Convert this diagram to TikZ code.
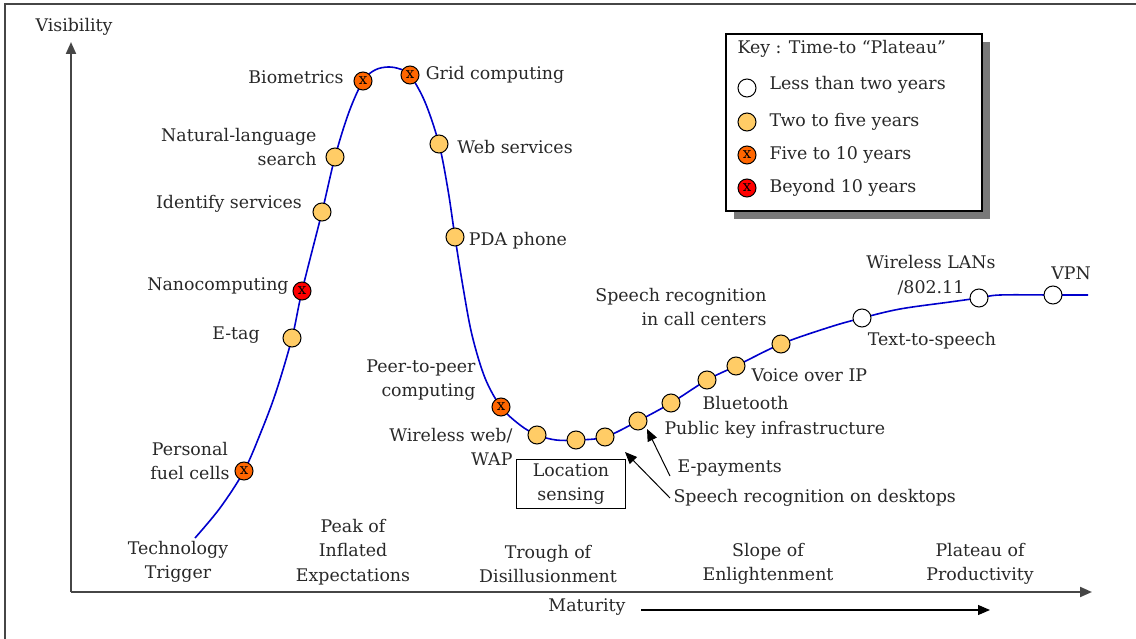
\documentclass[tikz,border=0pt]{standalone}
\usepackage{fontspec}
\setmainfont{DejaVu Serif}
\usetikzlibrary{arrows.meta}

\definecolor{curveblue}{RGB}{0,0,204}
\definecolor{yelfill}{RGB}{255,204,102}
\definecolor{orgfill}{RGB}{255,102,0}
\definecolor{redfill}{RGB}{255,0,0}
\definecolor{txtgray}{RGB}{40,40,40}
\definecolor{axisgray}{RGB}{70,70,70}

\begin{document}
\begin{tikzpicture}[x=1pt,y=-1pt,
    font=\fontsize{17.4}{24.5}\selectfont, text=txtgray,
    dot/.style={circle,draw=black,line width=1pt,minimum size=18pt,inner sep=0pt},
    lesstwo/.style={dot,fill=white},
    twofive/.style={dot,fill=yelfill},
    fiveten/.style={dot,fill=orgfill,label={[font=\fontsize{15}{15}\selectfont,text=black,inner sep=0pt]center:x}},
    beyond/.style={dot,fill=redfill,label={[font=\fontsize{15}{15}\selectfont,text=black,inner sep=0pt]center:x}},
    tip/.style={-{Triangle[length=12pt,width=10pt]}},
    ]
        \useasboundingbox (0,0) rectangle (1136,639);
        % 外框
        \draw[axisgray,line width=1.5pt] (5,639) -- (5,4) -- (1136,4);

        % 坐标轴
        \coordinate (O) at (71,592);
        \coordinate (Ytop) at (71,42);
        \coordinate (Xend) at (1092,592);
        \draw[axisgray,line width=2pt,tip] (O) -- (Ytop);
        \draw[axisgray,line width=2pt,tip] (O) -- (Xend);
        \node (vis) at (74,27) {Visibility};
        \node (mat) at (587,607) {Maturity};
        \coordinate (M1) at (641,610);
        \coordinate (M2) at (990,610);
        \draw[line width=1.2pt,tip] (M1) -- (M2);

        % 各阶段
        \node[align=center] (trigger) at (178,562) {Technology\\Trigger};
        \node[align=center] (peak) at (353,552) {Peak of\\Inflated\\Expectations};
        \node[align=center] (trough) at (548,564) {Trough of\\Disillusionment};
        \node[align=center] (slope) at (768,564) {Slope of\\Enlightenment};
        \node[align=center] (plateau) at (980,564) {Plateau of\\Productivity};

        % 曲线
        \draw[curveblue,line width=1.6pt] plot[smooth,tension=0.55] coordinates {
            (195,538) (220,508) (244,471) (261,432) (276,392) (292,338)
            (302,291) (322,212) (335,157) (349,112) (363,81) (375,70)
            (388,67) (400,69) (410,75) (425,102) (439,144) (448,190)
            (455,237) (463,287) (472,335) (485,378) (501,407) (520,425)
            (537,435) (556,440) (576,440) (605,437) (638,421) (671,403)
            (707,380) (736,366) (781,344) (830,327) (862,318) (900,309)
            (950,302) (979,298) (1000,295) (1053,295) (1088,295)};

        % 技术点
        \foreach \n/\p/\s in {fuel/{244,471}/fiveten, etag/{292,338}/twofive,
            nano/{302,291}/beyond, ident/{322,212}/twofive, natural/{335,157}/twofive,
            bio/{363,81}/fiveten, grid/{410,75}/fiveten, web/{439,144}/twofive,
            pda/{455,237}/twofive, peer/{501,407}/fiveten, wap/{537,435}/twofive,
            loc/{576,440}/twofive, sdesk/{605,437}/twofive, pki/{638,421}/twofive,
            blue/{671,403}/twofive, blue2/{707,380}/twofive, voip/{736,366}/twofive,
            scall/{781,344}/twofive, tts/{862,318}/lesstwo, wlan/{979,298}/lesstwo,
            vpn/{1053,295}/lesstwo}
            \node[\s] (\n) at (\p) {};

        % 标签
        \node[align=center] (fuell) at (190,461) {Personal\\fuel cells};
        \node (etagl) at (236,335) {E-tag};
        \node (nanol) at (218,286) {Nanocomputing};
        \node (identl) at (229,204) {Identify services};
        \node[align=right,anchor=east] (naturall) at (320,147) {Natural-language\\search};
        \node (biol) at (296,77) {Biometrics};
        \node (gridl) at (495,75) {Grid computing};
        \node (webl) at (515,147) {Web services};
        \node (pdal) at (518,241) {PDA phone};
        \node[align=right,anchor=east] (peerl) at (479,380) {Peer-to-peer\\computing};
        \node[align=right,anchor=east] (wapl) at (516,447) {Wireless web/\\WAP};
        \node[draw=black,line width=1.2pt,align=center,minimum width=109pt,minimum height=49pt,inner sep=0pt] (locl) at (571,484) {Location\\sensing};
        \node[anchor=west] (pkil) at (661,430) {Public key infrastructure};
        \node[anchor=west] (epayl) at (674,468) {E-payments};
        \node[anchor=west] (sdeskl) at (670,498) {Speech recognition on desktops};
        \node[anchor=west] (bluel) at (699,403) {Bluetooth};
        \node[anchor=west] (voipl) at (748,375) {Voice over IP};
        \node[align=right,anchor=east] (scalll) at (770,307) {Speech recognition\\in call centers};
        \node (ttsl) at (932,341) {Text-to-speech};
        \node[align=center] (wlanl) at (931,275) {Wireless LANs\\/802.11};
        \node (vpnl) at (1071,273) {VPN};

        % 箭头
        \coordinate (epayt) at (647,429);
        \coordinate (sdeskt) at (625,452);
        \draw[line width=1pt,tip] (epayl.west) ++(-4,8) -- (epayt);
        \draw[line width=1pt,tip] (sdeskl.west) -- (sdeskt);

        % 图例
        \fill[gray!95!black] (734,42) rectangle (990,219);
        \draw[fill=white,line width=1.2pt] (726,34) rectangle (982,211);
        \node[anchor=west] (keyl) at (734,49) {Key : Time-to “Plateau”};
        \node[lesstwo] (k1) at (747,88) {};
        \node[twofive] (k2) at (747,122) {};
        \node[fiveten] (k3) at (747,155) {};
        \node[beyond] (k4) at (747,188) {};
        \node[anchor=west] (k1l) at (766,85) {Less than two years};
        \node[anchor=west] (k2l) at (766,122) {Two to five years};
        \node[anchor=west] (k3l) at (766,155) {Five to 10 years};
        \node[anchor=west] (k4l) at (766,188) {Beyond 10 years};

    \end{tikzpicture}
\end{document}
